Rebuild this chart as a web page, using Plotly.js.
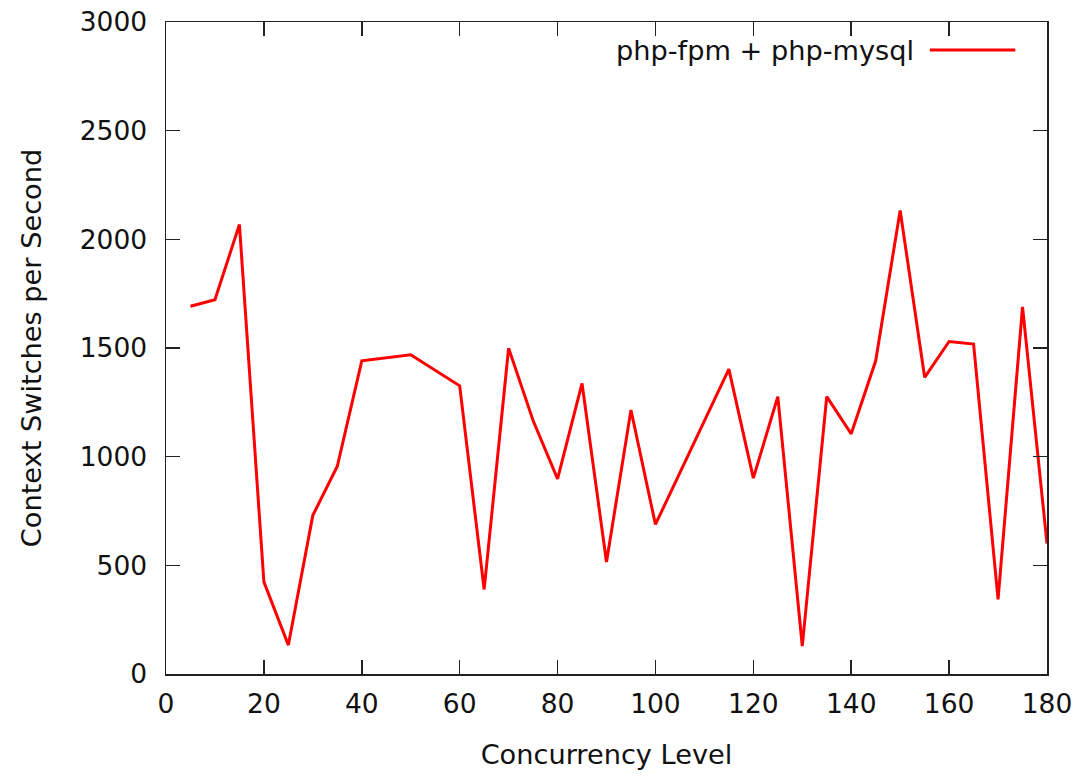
<!DOCTYPE html>
<html>
<head>
<meta charset="utf-8">
<script src="https://cdn.plot.ly/plotly-3.0.1.min.js"></script>
<style>html,body{margin:0;padding:0;background:#fff;}#chart{width:1086px;height:777px;}</style>
</head>
<body>
<div id="chart"></div>
<script>
var concurrency = [5,10,15,20,25,30,35,40,50,60,65,70,75,80,85,90,95,100,115,120,125,130,135,140,145,150,155,160,165,170,175,180];
var switchesPerSecond = [1692,1722,2068,424,133,730,956,1441,1469,1326,389,1499,1166,898,1337,515,1215,688,1403,901,1276,128,1276,1105,1441,2133,1365,1530,1518,343,1689,600];
var seriesName = "php-fpm + php-mysql";
var xTicks = [0,20,40,60,80,100,120,140,160,180];
var yTicks = [0,500,1000,1500,2000,2500,3000];

var font = {family: "DejaVu Sans", size: 26.5, color: "#111"};
var titleFont = {family: "DejaVu Sans", size: 27.2, color: "#111"};

var trace = {
  x: concurrency, y: switchesPerSecond, name: seriesName,
  type: "scatter", mode: "lines",
  line: {color: "#ff0000", width: 3},
  showlegend: false
};

var axisCommon = {
  showline: true, linecolor: "#222", linewidth: 1.5,
  mirror: "allticks", ticks: "inside", ticklen: 14, tickwidth: 1.5, tickcolor: "#222",
  showgrid: false, zeroline: false, tickfont: font
};

var layout = {
  width: 1086, height: 777,
  paper_bgcolor: "#fff", plot_bgcolor: "#fff",
  margin: {l: 166, r: 39, t: 22, b: 103},
  font: font,
  xaxis: Object.assign({}, axisCommon, {
    range: [0, 180], tickvals: xTicks, ticktext: xTicks.map(String),
    ticklabelstandoff: 6,
    title: {text: "Concurrency Level", font: titleFont, standoff: 26}
  }),
  yaxis: Object.assign({}, axisCommon, {
    range: [0, 3000], tickvals: yTicks, ticktext: yTicks.map(String),
    ticklabelstandoff: 12,
    title: {text: "Context Switches per Second", font: titleFont, standoff: 30}
  }),
  annotations: [{
    xref: "paper", yref: "paper", x: 0.851, y: 0.957,
    xanchor: "right", yanchor: "middle", showarrow: false,
    text: seriesName, font: titleFont
  }],
  shapes: [{
    type: "line", xref: "paper", yref: "paper",
    x0: 0.867, x1: 0.964, y0: 0.957, y1: 0.957,
    line: {color: "#ff0000", width: 3}
  }]
};

Plotly.newPlot("chart", [trace], layout, {staticPlot: true, displayModeBar: false});
</script>
</body>
</html>
